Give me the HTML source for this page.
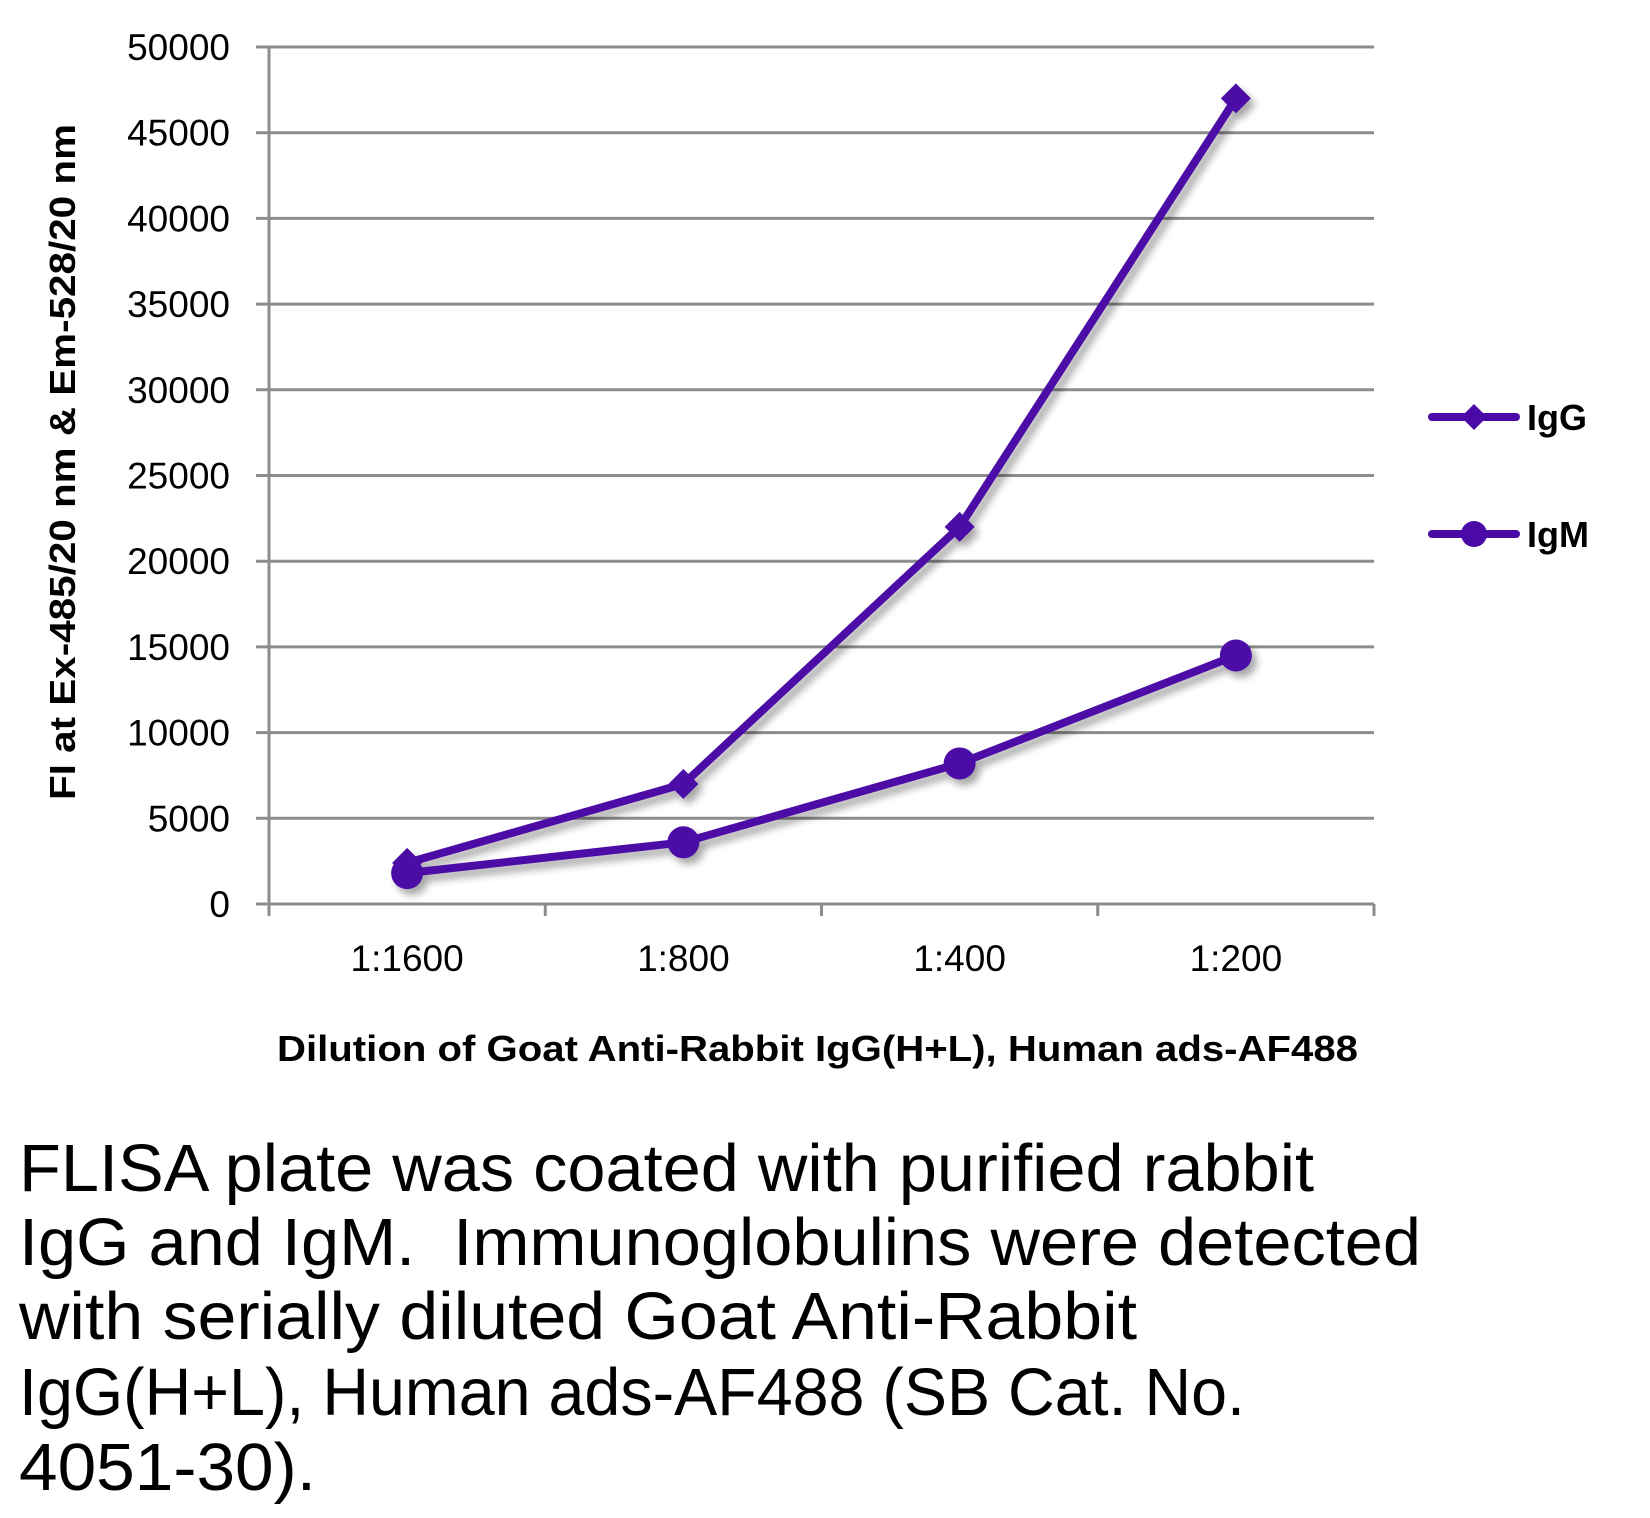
<!DOCTYPE html>
<html><head><meta charset="utf-8">
<style>
html,body{margin:0;padding:0;background:#fff;}
svg{display:block;}
text{font-family:"Liberation Sans",sans-serif;}
</style></head>
<body>
<svg id="chart" width="1650" height="1518" viewBox="0 0 1650 1518" xmlns="http://www.w3.org/2000/svg">
<defs>
<filter id="shadow" x="-20%" y="-20%" width="140%" height="140%">
<feGaussianBlur in="SourceAlpha" stdDeviation="4"/>
<feOffset dx="5" dy="6" result="b"/>
<feComponentTransfer><feFuncA type="linear" slope="0.35"/></feComponentTransfer>
<feMerge><feMergeNode/><feMergeNode in="SourceGraphic"/></feMerge>
</filter>
</defs>
<g id="grid"></g>
<g id="yticks"></g>
<g id="xaxis"></g>
<g id="series" filter="url(#shadow)"></g>
<text transform="translate(75,462) rotate(-90)" text-anchor="middle" font-size="36" font-weight="bold" textLength="676" lengthAdjust="spacingAndGlyphs">FI at Ex-485/20 nm &amp; Em-528/20 nm</text>
<text x="277" y="1061" font-size="36" font-weight="bold" textLength="1081" lengthAdjust="spacingAndGlyphs">Dilution of Goat Anti-Rabbit IgG(H+L), Human ads-AF488</text>
<g>
<g>
<line x1="1432" y1="417" x2="1516" y2="417" stroke="#4B0AA6" stroke-width="8" stroke-linecap="round"/>
<polygon points="1474,404 1487,417 1474,430 1461,417" fill="#4B0AA6"/>
<text x="1527" y="430" font-size="36" font-weight="bold">IgG</text>
</g>
<g>
<line x1="1432" y1="534" x2="1516" y2="534" stroke="#4B0AA6" stroke-width="8" stroke-linecap="round"/>
<circle cx="1474" cy="534" r="13" fill="#4B0AA6"/>
<text x="1527" y="547" font-size="36" font-weight="bold">IgM</text>
</g>
</g>
<g font-size="67">
<text x="19" y="1191" textLength="1295" lengthAdjust="spacingAndGlyphs">FLISA plate was coated with purified rabbit</text>
<text x="19" y="1265" textLength="1402" lengthAdjust="spacingAndGlyphs" xml:space="preserve">IgG and IgM.  Immunoglobulins were detected</text>
<text x="19" y="1339" textLength="1118" lengthAdjust="spacingAndGlyphs">with serially diluted Goat Anti-Rabbit</text>
<text x="19" y="1415" textLength="1226" lengthAdjust="spacingAndGlyphs">IgG(H+L), Human ads-AF488 (SB Cat. No.</text>
<text x="19" y="1490" textLength="297" lengthAdjust="spacingAndGlyphs">4051-30).</text>
</g>
</svg>
<script>
const categories = ["1:1600","1:800","1:400","1:200"];
const iggValues = [2400, 7000, 22000, 47000];
const igmValues = [1800, 3600, 8200, 14500];
const yTicks = [0,5000,10000,15000,20000,25000,30000,35000,40000,45000,50000];

const NS = "http://www.w3.org/2000/svg";
const X0 = 269, X1 = 1374, Y0 = 904, Y1 = 47, YMAX = 50000;
const catW = (X1 - X0) / categories.length;
function xPos(i){ return X0 + catW * (i + 0.5); }
function yPos(v){ return Y0 - (v / YMAX) * (Y0 - Y1); }
function mk(tag, attrs, parent){
  const e = document.createElementNS(NS, tag);
  for (const k in attrs) e.setAttribute(k, attrs[k]);
  parent.appendChild(e);
  return e;
}
const grid = document.getElementById('grid');
const yt = document.getElementById('yticks');
yTicks.forEach(v => {
  const l = mk('line', {x1: 256, x2: X1, y1: yPos(v), y2: yPos(v), stroke: '#8c8c8c', 'stroke-width': 3}, grid);
  
  
  const t = mk('text', {x: 230, y: yPos(v) + 13, 'text-anchor': 'end', 'font-size': 37, fill: '#000'}, yt);
  t.textContent = v;
  
  
});
const xa = document.getElementById('xaxis');
const ya = mk('line', {x1: X0, x2: X0, y1: Y1, y2: Y0 + 12, stroke: '#8c8c8c', 'stroke-width': 3}, xa);


for (let i = 0; i <= categories.length; i++) {
  const x = X0 + catW * i;
  const tk = mk('line', {x1: x, x2: x, y1: Y0, y2: Y0 + 12, stroke: '#8c8c8c', 'stroke-width': 3}, xa);
  
  
}
categories.forEach((c, i) => {
  const t = mk('text', {x: xPos(i), y: 971, 'text-anchor': 'middle', 'font-size': 37}, xa);
  t.textContent = c;
  
  
});
const sg = document.getElementById('series');
function drawSeries(vals, name, marker){
  const g = mk('g', {}, sg);
  
  
  const pts = vals.map((v, i) => xPos(i) + ',' + yPos(v)).join(' ');
  const pl = mk('polyline', {points: pts, fill: 'none', stroke: '#4B0AA6', 'stroke-width': 8, 'stroke-linejoin': 'round'}, g);
  
  
  vals.forEach((v, i) => {
    const x = xPos(i), y = yPos(v);
    let m;
    if (marker === 'diamond') {
      m = mk('polygon', {points: `${x},${y-15} ${x+15},${y} ${x},${y+15} ${x-15},${y}`, fill: '#4B0AA6'}, g);
    } else {
      m = mk('circle', {cx: x, cy: y, r: 16, fill: '#4B0AA6'}, g);
    }
    
    
  });
}
drawSeries(iggValues, 'igg', 'diamond');
drawSeries(igmValues, 'igm', 'circle');
</script>
</body></html>
